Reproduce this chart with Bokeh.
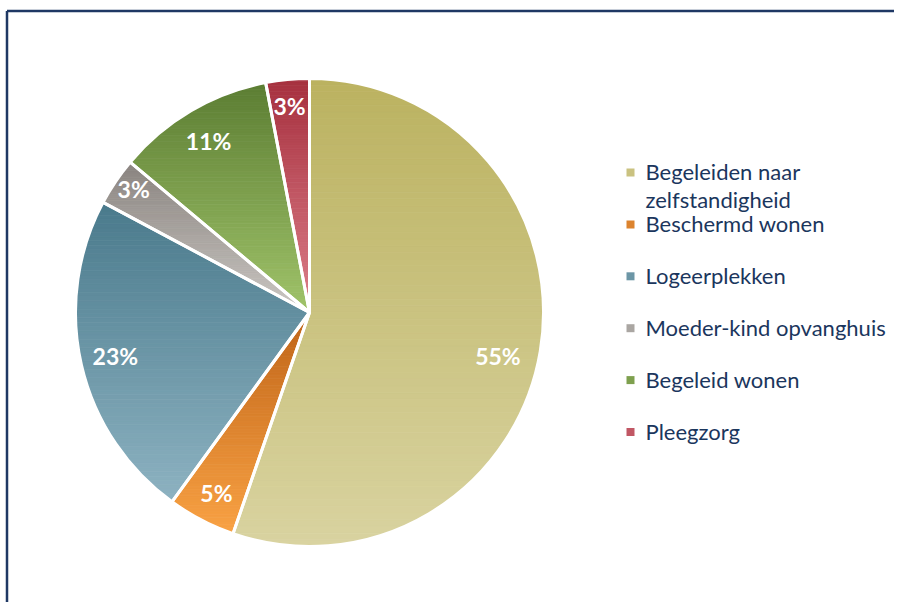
import numpy as np
from bokeh.plotting import figure
from bokeh.models import ColumnDataSource
from bokeh.core.properties import value
from bokeh.embed import file_html
from bokeh.resources import INLINE

# ---- data ----
categories = ["Begeleiden naar\nzelfstandigheid", "Beschermd wonen", "Logeerplekken",
              "Moeder-kind opvanghuis", "Begeleid wonen", "Pleegzorg"]
shares = [55.3, 4.7, 22.8, 3.3, 10.9, 3.0]
top_colors = ["#BBB260", "#BF6418", "#4A7A8C", "#8A8480", "#5C7D33", "#A6303E"]
bottom_colors = ["#D9D3A0", "#F9A244", "#8DB2C1", "#CBC7C3", "#A0C46A", "#DC7E89"]

# ---- layout (canvas pixels, y up) ----
W, H = 894, 602
CX, CY, R = 309, 290, 234
LABEL_R = 0.86
# small per-label nudges (pixels) to mimic best-fit label placement
label_nudge_x = [-10, 0, 2, -9, 1, -1]
label_nudge_y = [-10, -2, 2, 11, -2, 6]
LEG_X, LEG_Y0, LEG_DY, LEG_LINE = 630, 430, 51.9, 28
TEXT_COLOR = "#1B365D"

p = figure(width=W, height=H, x_range=(0, W), y_range=(0, H), min_border=0,
           toolbar_location=None, output_backend="svg")
p.axis.visible = False
p.grid.visible = False
p.outline_line_color = None
p.background_fill_color = "white"
p.border_fill_color = "white"

# border (top and left sides, as cropped in reference)
p.line(x=[6.5, W], y=[H - 10.5, H - 10.5], line_color="#1F3864", line_width=2.5)
p.line(x=[6.5, 6.5], y=[0, H - 10.5], line_color="#1F3864", line_width=2.5)


def hex_rgb(h):
    h = h.lstrip("#")
    return np.array([int(h[i:i + 2], 16) for i in (0, 2, 4)], dtype=float)


def mix(c1, c2, t):
    c = hex_rgb(c1) * (1 - t) + hex_rgb(c2) * t
    return "#%02x%02x%02x" % tuple(int(round(v)) for v in c)


def cut(a, b, yc):
    t = (yc - a[1]) / (b[1] - a[1])
    return (a[0] + t * (b[0] - a[0]), yc)


def clip_half(pts, yc, above):
    out = []
    n = len(pts)
    for i in range(n):
        cur, prev = pts[i], pts[i - 1]
        cin = cur[1] >= yc if above else cur[1] <= yc
        pin = prev[1] >= yc if above else prev[1] <= yc
        if cin:
            if not pin:
                out.append(cut(prev, cur, yc))
            out.append(cur)
        elif pin:
            out.append(cut(prev, cur, yc))
    return out


total = sum(shares)
fracs = [s / total for s in shares]
cum = np.concatenate([[0], np.cumsum(fracs)])

xs_all, ys_all, cols_all = [], [], []
starts, ends, mids = [], [], []
NB = 70
for i, f in enumerate(fracs):
    a0 = np.pi / 2 - 2 * np.pi * cum[i]
    a1 = np.pi / 2 - 2 * np.pi * cum[i + 1]
    starts.append(a1)
    ends.append(a0)
    mids.append((a0 + a1) / 2)
    npts = max(8, int(400 * f))
    ang = np.linspace(a0, a1, npts)
    poly = [(CX, CY)] + [(CX + R * np.cos(a), CY + R * np.sin(a)) for a in ang]
    ymin = min(q[1] for q in poly)
    ymax = max(q[1] for q in poly)
    edges = np.linspace(ymin, ymax, NB + 1)
    for k in range(NB):
        lo, hi = edges[k], edges[k + 1]
        band = clip_half(poly, lo, True)
        if len(band) < 3:
            continue
        band = clip_half(band, hi, False)
        if len(band) < 3:
            continue
        t = ((lo + hi) / 2 - ymin) / (ymax - ymin)  # 0 bottom, 1 top
        col = mix(bottom_colors[i], top_colors[i], t)
        xs_all.append([q[0] for q in band])
        ys_all.append([q[1] for q in band])
        cols_all.append(col)

p.patches(xs=xs_all, ys=ys_all, fill_color=cols_all, line_color=cols_all, line_width=0.8)

# white separators
p.wedge(x=CX, y=CY, radius=R, start_angle=starts, end_angle=ends, direction="anticlock",
        fill_color=None, line_color="white", line_width=3)

# data labels
lab_src = ColumnDataSource(dict(
    x=[CX + LABEL_R * R * np.cos(m) + dx for m, dx in zip(mids, label_nudge_x)],
    y=[CY + LABEL_R * R * np.sin(m) + dy for m, dy in zip(mids, label_nudge_y)],
    t=["%d%%" % round(s) for s in shares],
))
p.text(x="x", y="y", text="t", source=lab_src, text_color="white", text_font=value("Lato"),
       text_font_style="bold", text_font_size="23px", text_align="center", text_baseline="middle")

# legend
mk_x, mk_y, mk_c = [], [], []
tx, ty, tt = [], [], []
for i, c in enumerate(categories):
    yy = LEG_Y0 - i * LEG_DY
    mk_x.append(LEG_X)
    mk_y.append(yy)
    mk_c.append(mix(bottom_colors[i], top_colors[i], 0.5))
    for j, line in enumerate(c.split("\n")):
        tx.append(LEG_X + 15)
        ty.append(yy + 1 - j * LEG_LINE)
        tt.append(line)
p.rect(x=mk_x, y=mk_y, width=8, height=8, fill_color=mk_c, line_color=None)
p.text(x=tx, y=ty, text=tt, text_color=TEXT_COLOR, text_font=value("Lato"),
       text_font_size="22px", text_align="left", text_baseline="middle")

open("out.html", "w").write(file_html(p, INLINE))
